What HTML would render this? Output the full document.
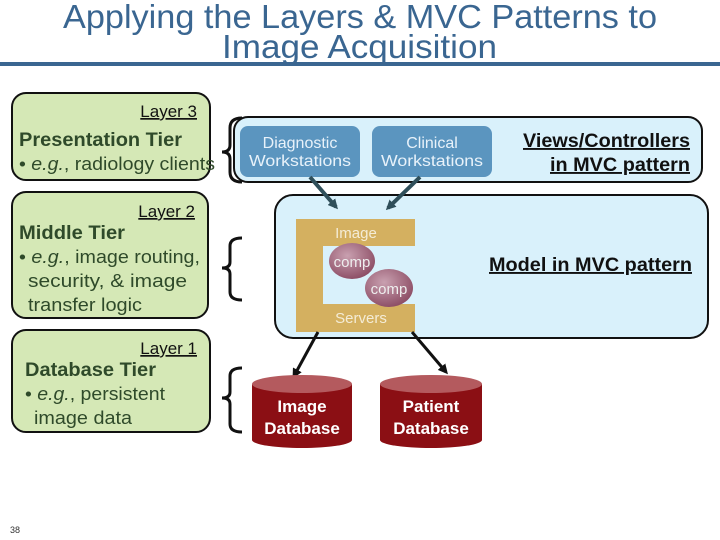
<!DOCTYPE html>
<html><head><style>body{margin:0;background:#fff}svg{display:block}</style></head><body>
<svg width="720" height="540" xmlns="http://www.w3.org/2000/svg" font-family="Liberation Sans, sans-serif">
<defs>
<marker id="ah" markerWidth="10" markerHeight="10" refX="7" refY="5" orient="auto" markerUnits="userSpaceOnUse"><path d="M0,0 L10,5 L0,10 z" fill="#111"/></marker>
<marker id="ah2" markerWidth="10" markerHeight="10" refX="7" refY="5" orient="auto" markerUnits="userSpaceOnUse"><path d="M0,0 L10,5 L0,10 z" fill="#2f4f5a"/></marker>
<radialGradient id="cg" cx="0.4" cy="0.35" r="0.7"><stop offset="0" stop-color="#c9a0b0"/><stop offset="1" stop-color="#8a4a62"/></radialGradient>
</defs>
<text x="63" y="28" font-size="33" fill="#3a6691" textLength="594" lengthAdjust="spacingAndGlyphs">Applying the Layers &amp; MVC Patterns to</text>
<text x="222" y="58" font-size="33" fill="#3a6691" textLength="275" lengthAdjust="spacingAndGlyphs">Image Acquisition</text>
<rect x="0" y="62" width="720" height="4" fill="#3a6691"/>

<rect x="12" y="93" width="198" height="87" rx="14" fill="#d5e8b6" stroke="#111" stroke-width="2"/>
<text x="197" y="117" text-anchor="end" font-size="17" fill="#111" text-decoration="underline">Layer 3</text>
<text x="19" y="146" font-size="19" font-weight="bold" fill="#2f4a2a" textLength="163" lengthAdjust="spacingAndGlyphs">Presentation Tier</text>
<text x="19" y="170" font-size="18" fill="#2f4a2a" textLength="196" lengthAdjust="spacingAndGlyphs">• <tspan font-style="italic">e.g.</tspan>, radiology clients</text>

<rect x="12" y="192" width="196" height="126" rx="14" fill="#d5e8b6" stroke="#111" stroke-width="2"/>
<text x="195" y="217" text-anchor="end" font-size="17" fill="#111" text-decoration="underline">Layer 2</text>
<text x="19" y="239" font-size="19" font-weight="bold" fill="#2f4a2a" textLength="106" lengthAdjust="spacingAndGlyphs">Middle Tier</text>
<text x="19" y="263" font-size="18" fill="#2f4a2a" textLength="181" lengthAdjust="spacingAndGlyphs">• <tspan font-style="italic">e.g.</tspan>, image routing,</text>
<text x="28" y="287" font-size="18" fill="#2f4a2a" textLength="159" lengthAdjust="spacingAndGlyphs">security,  &amp; image</text>
<text x="28" y="311" font-size="18" fill="#2f4a2a" textLength="114" lengthAdjust="spacingAndGlyphs">transfer logic</text>

<rect x="12" y="330" width="198" height="102" rx="14" fill="#d5e8b6" stroke="#111" stroke-width="2"/>
<text x="197" y="354" text-anchor="end" font-size="17" fill="#111" text-decoration="underline">Layer 1</text>
<text x="25" y="376" font-size="19" font-weight="bold" fill="#2f4a2a" textLength="131" lengthAdjust="spacingAndGlyphs">Database Tier</text>
<text x="25" y="400" font-size="18" fill="#2f4a2a" textLength="140" lengthAdjust="spacingAndGlyphs">• <tspan font-style="italic">e.g.</tspan>, persistent</text>
<text x="34" y="424" font-size="18" fill="#2f4a2a" textLength="98" lengthAdjust="spacingAndGlyphs">image data</text>

<g fill="none" stroke="#111" stroke-width="3">
<path d="M242,118 Q230,118 230,128 L230,145 Q230,152 222,152 Q230,152 230,159 L230,172 Q230,182 242,182"/>
<path d="M242,238 Q230,238 230,246 L230,262 Q230,268 222,268 Q230,268 230,274 L230,292 Q230,300 242,300"/>
<path d="M242,368 Q230,368 230,376 L230,392 Q230,398 222,398 Q230,398 230,404 L230,424 Q230,432 242,432"/>
</g>

<rect x="234" y="117" width="468" height="65" rx="14" fill="#d9f1fb" stroke="#111" stroke-width="2"/>
<rect x="240" y="126" width="120" height="51" rx="8" fill="#5b95bf"/>
<text x="300" y="148" text-anchor="middle" font-size="16" fill="#e8f2fa">Diagnostic</text>
<text x="300" y="166" text-anchor="middle" font-size="16" fill="#e8f2fa" textLength="102" lengthAdjust="spacingAndGlyphs">Workstations</text>
<rect x="372" y="126" width="120" height="51" rx="8" fill="#5b95bf"/>
<text x="432" y="148" text-anchor="middle" font-size="16" fill="#e8f2fa">Clinical</text>
<text x="432" y="166" text-anchor="middle" font-size="16" fill="#e8f2fa" textLength="102" lengthAdjust="spacingAndGlyphs">Workstations</text>
<text x="690" y="147" text-anchor="end" font-size="19" font-weight="bold" fill="#111" text-decoration="underline" textLength="167" lengthAdjust="spacingAndGlyphs">Views/Controllers</text>
<text x="690" y="171" text-anchor="end" font-size="19" font-weight="bold" fill="#111" text-decoration="underline" textLength="140" lengthAdjust="spacingAndGlyphs">in MVC pattern</text>

<rect x="275" y="195" width="433" height="143" rx="18" fill="#d9f1fb" stroke="#111" stroke-width="2"/>
<path d="M296,219 H415 V246 H323 V304 H415 V332 H296 Z" fill="#d4b060"/>
<text x="356" y="238" text-anchor="middle" font-size="15" fill="#f4ecd6">Image</text>
<text x="361" y="323" text-anchor="middle" font-size="15" fill="#f4ecd6">Servers</text>
<ellipse cx="352" cy="261" rx="23" ry="18" fill="url(#cg)"/>
<text x="352" y="267" text-anchor="middle" font-size="15" fill="#eee">comp</text>
<ellipse cx="389" cy="288" rx="24" ry="19" fill="url(#cg)"/>
<text x="389" y="294" text-anchor="middle" font-size="15" fill="#eee">comp</text>
<text x="692" y="271" text-anchor="end" font-size="19" font-weight="bold" fill="#111" text-decoration="underline" textLength="203" lengthAdjust="spacingAndGlyphs">Model in MVC pattern</text>

<line x1="310" y1="177" x2="336" y2="207" stroke="#2f4f5a" stroke-width="4" marker-end="url(#ah2)"/>
<line x1="420" y1="177" x2="388" y2="208" stroke="#2f4f5a" stroke-width="4" marker-end="url(#ah2)"/>
<line x1="318" y1="332" x2="294" y2="376" stroke="#111" stroke-width="3" marker-end="url(#ah)"/>
<line x1="412" y1="332" x2="446" y2="372" stroke="#111" stroke-width="3" marker-end="url(#ah)"/>

<path d="M252,384 V440 A50,8 0 0 0 352,440 V384 Z" fill="#8b0f14"/>
<ellipse cx="302" cy="384" rx="50" ry="9" fill="#b45a5e"/>
<text x="302" y="412" text-anchor="middle" font-size="17" font-weight="bold" fill="#fff">Image</text>
<text x="302" y="434" text-anchor="middle" font-size="17" font-weight="bold" fill="#fff">Database</text>
<path d="M380,384 V440 A51,8 0 0 0 482,440 V384 Z" fill="#8b0f14"/>
<ellipse cx="431" cy="384" rx="51" ry="9" fill="#b45a5e"/>
<text x="431" y="412" text-anchor="middle" font-size="17" font-weight="bold" fill="#fff">Patient</text>
<text x="431" y="434" text-anchor="middle" font-size="17" font-weight="bold" fill="#fff">Database</text>

<text x="10" y="533" font-size="9" fill="#333">38</text>
</svg>
</body></html>
